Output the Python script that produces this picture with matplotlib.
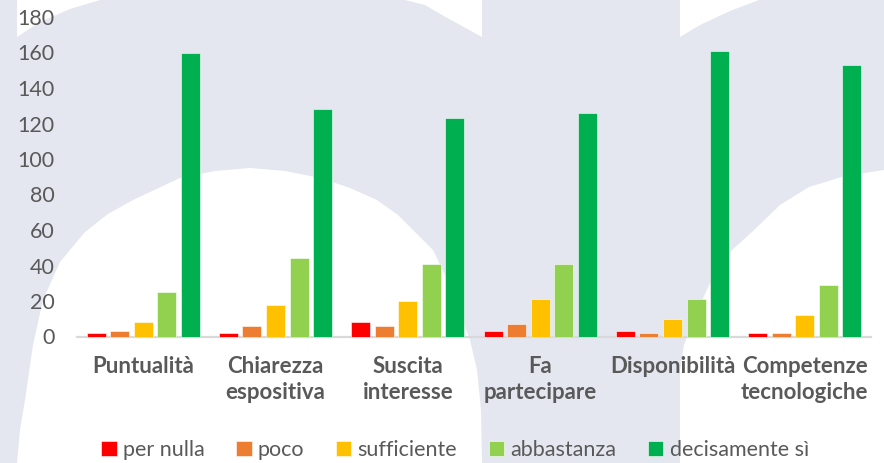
import numpy as np
import matplotlib
matplotlib.use("Agg")
import matplotlib.pyplot as plt
from matplotlib.patches import Polygon

plt.rcParams['font.family'] = ['Lato', 'DejaVu Sans']

categorie = ["Puntualità", "Chiarezza\nespositiva", "Suscita\ninteresse",
             "Fa\npartecipare", "Disponibilità", "Competenze\ntecnologiche"]
serie = ["per nulla", "poco", "sufficiente", "abbastanza", "decisamente sì"]
per_nulla = [2, 2, 8, 3, 3, 2]
poco = [3, 6, 6, 7, 2, 2]
sufficiente = [8, 18, 20, 21, 10, 12]
abbastanza = [25, 44, 41, 41, 21, 29]
decisamente = [160, 128, 123, 126, 161, 153]
colori = ["#FF0000", "#ED7D31", "#FFC000", "#92D050", "#00B050"]
valori = [per_nulla, poco, sufficiente, abbastanza, decisamente]

W, H = 884, 463
fig = plt.figure(figsize=(W / 100, H / 100), dpi=100, facecolor="#E4E7EF")


# sfondo: logo in filigrana (coordinate in pixel, y verso il basso)
def zona_bianca(punti):
    pts = [(x / W, 1 - y / H) for x, y in punti]
    fig.patches.append(Polygon(pts, closed=True, transform=fig.transFigure,
                               facecolor="white", edgecolor="none", zorder=-5))


zona_bianca([(17, 0), (17, 37), (40, 22), (70, 9), (100, 0)])
zona_bianca([(405, 0), (425, 5), (442, 15), (482, 37), (482, 0)])
zona_bianca([(680, 0), (680, 37), (700, 25), (730, 11), (759, 0)])
zona_bianca([(17, 463), (20, 430), (25, 400), (33, 345), (43, 300), (60, 262),
             (85, 232), (108, 214), (133, 200), (180, 178), (215, 171),
             (250, 168), (285, 171), (320, 178), (350, 188), (377, 200),
             (398, 215), (415, 232), (433, 250), (445, 275), (455, 300),
             (470, 340), (477, 370), (481, 410), (482, 463)])
zona_bianca([(680, 463), (680, 370), (684, 345), (690, 330), (700, 305),
             (710, 283), (732, 250), (752, 232), (780, 205), (809, 187),
             (845, 176), (884, 170), (884, 463)])

ax = fig.add_axes([77 / W, 1 - 336.5 / H, 794 / W, 319.5 / H])
ax.set_facecolor("none")
ax.set_zorder(1)

x = np.arange(len(categorie))
passo = 0.178
larg = 0.144
for i, (nome, vals, col) in enumerate(zip(serie, valori, colori)):
    ax.bar(x + (i - 2) * passo, vals, width=larg, color=col, label=nome,
           edgecolor="#FFFFFF", linewidth=0.4, zorder=3)

ax.set_xlim(-0.5, len(categorie) - 0.5)
ax.set_ylim(0, 180)
ax.set_yticks(range(0, 181, 20))
ax.set_xticks(x)
ax.set_xticklabels(categorie, fontsize=16, fontweight="bold", color="#595959",
                   linespacing=1.3)
ax.tick_params(axis="y", length=0, pad=16, labelsize=15.5, labelcolor="#595959")
ax.tick_params(axis="x", length=0, pad=14)

for s in ["top", "right", "left"]:
    ax.spines[s].set_visible(False)
ax.spines["bottom"].set_color("#D9D9D9")
ax.spines["bottom"].set_linewidth(1.6)
ax.spines["bottom"].set_zorder(2)

fig.legend(loc="center", bbox_to_anchor=(455 / W, 1 - 450 / H), ncol=5,
           frameon=False, fontsize=15.5, labelcolor="#595959",
           handlelength=0.72, handleheight=0.72, handletextpad=0.3,
           columnspacing=1.45)

fig.savefig("out.png", dpi=100, facecolor=fig.get_facecolor())
